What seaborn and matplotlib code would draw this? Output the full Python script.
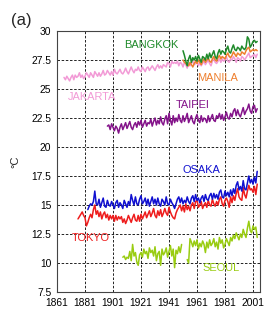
import numpy as np
import pandas as pd
import matplotlib
matplotlib.use('Agg')
import matplotlib.pyplot as plt
import seaborn as sns

# annual mean temperature, deg C
jakarta_years = list(range(1866, 2005))
jakarta = [26.0, 25.8, 26.1, 25.9, 25.7, 26.0, 26.2, 25.8, 26.2, 26.0,
           26.1, 26.4, 26.0, 26.2, 25.9, 26.1, 26.4, 26.2, 26.0, 26.4,
           26.2, 26.0, 26.5, 26.3, 26.1, 26.4, 26.1, 26.3, 26.6, 26.2,
           26.3, 26.6, 26.4, 26.2, 26.5, 26.2, 26.7, 26.4, 26.3, 26.5,
           26.7, 26.4, 26.3, 26.5, 26.8, 26.5, 26.3, 26.6, 26.9, 26.6,
           26.4, 26.7, 26.6, 26.9, 26.6, 26.5, 26.9, 26.7, 26.5, 26.8,
           26.9, 26.6, 26.8, 27.0, 26.8, 26.6, 26.9, 27.1, 26.8, 27.0,
           26.8, 27.1, 27.0, 26.9, 27.3, 27.2, 26.9, 27.4, 27.2, 27.3,
           27.2, 27.4, 27.0, 27.3, 27.2, 26.9, 27.3, 27.1, 26.8, 27.2,
           27.0, 27.2, 27.4, 27.1, 27.2, 27.4, 27.0, 27.3, 27.0, 27.2,
           27.4, 27.1, 27.3, 27.5, 27.2, 27.0, 27.4, 27.6, 27.3, 27.2,
           27.4, 27.6, 27.3, 27.6, 27.4, 27.5, 27.8, 27.4, 27.3, 27.6,
           27.5, 27.8, 27.6, 27.3, 27.7, 27.6, 27.4, 27.8, 27.7, 27.5,
           27.7, 27.9, 28.1, 27.7, 27.8, 27.9, 28.0, 27.7, 28.0]

bangkok_years = list(range(1951, 2005))
bangkok = [28.3, 27.9, 27.4, 27.0, 27.6, 27.9, 27.3, 27.7, 27.5, 27.8,
           27.4, 27.9, 27.6, 27.3, 27.8, 27.7, 27.5, 28.0, 27.6, 28.1,
           27.7, 28.0, 28.3, 27.8, 27.6, 28.1, 28.4, 28.0, 28.3, 28.2,
           28.0, 28.4, 28.7, 28.2, 28.1, 28.5, 28.8, 28.4, 28.3, 28.6,
           28.5, 28.3, 28.7, 28.5, 28.4, 28.6, 29.5, 29.3, 28.6, 28.8,
           29.1, 29.2, 29.0, 29.1]

manila_years = list(range(1951, 2005))
manila = [27.5, 27.3, 27.2, 27.1, 27.0, 27.3, 27.1, 26.9, 27.2, 27.4,
          27.2, 27.5, 27.3, 27.1, 27.4, 27.6, 27.3, 27.5, 27.7, 27.4,
          27.3, 27.6, 27.8, 27.5, 27.4, 27.7, 27.9, 27.6, 27.8, 27.7,
          27.6, 27.9, 28.1, 27.8, 27.7, 27.9, 28.2, 28.0, 27.8, 28.1,
          28.0, 27.9, 28.2, 28.1, 28.0, 28.3, 28.5, 28.6, 28.2, 28.3,
          28.4, 28.3, 28.4, 28.3]

taipei_years = list(range(1897, 2005))
taipei = [21.8, 21.9, 21.5, 22.0, 21.7, 21.4, 21.8, 21.6, 21.2, 21.7,
          22.0, 21.5, 21.8, 22.1, 21.6, 21.9, 22.2, 21.7, 21.5, 21.9,
          22.1, 21.7, 22.2, 21.9, 22.3, 21.7, 22.0, 22.3, 21.8, 22.1,
          22.0, 22.4, 21.8, 22.2, 22.5, 21.9, 22.3, 22.0, 22.6, 22.1,
          21.9, 22.4, 22.7, 22.0, 22.9, 22.3, 21.9, 22.7, 22.1, 22.5,
          22.2, 22.8, 22.3, 22.1, 22.7, 22.2, 22.5, 22.9, 22.1, 22.4,
          22.7, 22.2, 22.0, 22.5, 22.8, 22.3, 22.1, 22.7, 22.2, 22.5,
          22.4, 22.1, 22.7, 22.2, 22.5, 22.8, 22.3, 22.2, 22.7, 22.5,
          22.9, 22.4, 22.8, 22.3, 22.6, 23.0, 22.5, 22.4, 22.9, 22.6,
          23.1, 23.3, 22.7, 23.2, 22.8, 22.6, 23.0, 23.4, 22.8, 23.1,
          23.3, 23.7, 23.1, 22.9, 23.5, 23.6, 23.0, 23.3]

tokyo_years = list(range(1876, 2005))
tokyo = [13.8, 14.0, 14.2, 14.4, 14.1, 13.9, 13.2, 13.5, 13.9, 14.2,
         13.9, 14.6, 15.0, 14.2, 14.5, 14.0, 14.4, 13.8, 14.2, 14.4,
         13.9, 14.2, 13.7, 14.1, 13.8, 14.1, 13.6, 14.1, 13.7, 14.0,
         13.8, 14.0, 13.5, 13.8, 13.4, 13.7, 14.1, 13.8, 13.5, 13.9,
         14.2, 13.7, 13.6, 14.1, 13.6, 14.2, 13.8, 14.1, 14.4, 13.9,
         14.2, 14.5, 14.0, 14.3, 14.7, 14.1, 13.9, 14.5, 14.1, 14.6,
         14.0, 14.3, 14.7, 14.3, 14.1, 14.8, 14.4, 14.1, 13.9, 13.8,
         14.3, 14.6, 14.8, 15.0, 14.5, 14.9, 14.4, 15.1, 14.6, 14.9,
         14.5, 15.0, 15.2, 14.7, 15.3, 15.4, 14.8, 15.0, 15.3, 14.7,
         15.0, 15.2, 14.8, 15.4, 15.0, 14.9, 15.5, 15.1, 14.9, 15.3,
         15.0, 15.5, 15.7, 15.1, 14.9, 15.4, 15.6, 15.3, 14.8, 15.7,
         15.2, 15.8, 15.4, 16.0, 16.4, 15.7, 15.5, 15.4, 16.5, 15.9,
         15.6, 16.2, 16.7, 16.3, 16.4, 16.1, 16.6, 15.9, 16.8]

osaka_years = list(range(1883, 2005))
osaka = [14.6, 14.9, 15.1, 15.0, 15.3, 16.2, 15.1, 15.0, 15.5, 14.8,
         15.2, 15.6, 14.9, 14.8, 15.4, 15.0, 14.9, 15.3, 15.0, 14.7,
         15.2, 15.4, 14.8, 15.2, 15.0, 14.7, 15.4, 15.1, 14.8, 15.3,
         15.0, 15.9, 15.4, 15.0, 15.7, 15.1, 15.0, 15.5, 15.8, 15.1,
         15.3, 15.6, 15.0, 15.5, 14.9, 15.3, 15.7, 15.1, 15.5, 15.0,
         15.6, 15.1, 14.9, 15.5, 15.3, 15.0, 15.7, 15.1, 15.0, 15.5,
         15.2, 15.0, 14.7, 15.1, 15.5, 15.7, 15.2, 15.6, 15.1, 15.4,
         15.2, 15.7, 15.3, 15.1, 15.6, 15.8, 15.3, 15.9, 15.4, 15.6,
         15.2, 15.6, 15.8, 15.3, 15.9, 15.5, 15.4, 15.8, 16.0, 15.5,
         16.0, 15.6, 15.9, 15.5, 16.1, 16.3, 15.7, 15.6, 16.2, 15.8,
         16.1, 15.7, 16.3, 15.8, 16.4, 16.0, 16.7, 17.0, 16.3, 16.6,
         16.2, 17.1, 16.4, 16.3, 16.9, 17.5, 16.9, 17.2, 16.8, 17.4,
         16.9, 17.9]

# no data 1951-1953
seoul_years = list(range(1908, 2005))
seoul = [10.5, 10.6, 10.3, 10.5, 10.4, 11.0, 10.2, 11.6, 10.6, 10.9,
         10.1, 9.8, 10.7, 10.9, 10.5, 11.2, 10.8, 11.0, 10.4, 11.3,
         10.9, 11.1, 10.6, 11.4, 10.2, 10.8, 11.0, 9.8, 11.2, 10.7,
         10.9, 11.3, 10.5, 11.0, 11.5, 10.6, 11.2, 9.6, 11.1, 10.8,
         11.4, 10.9, 11.6, None, None, None,
         10.3, 10.0, 12.1, 11.8, 11.4, 11.9, 11.5, 12.0, 11.2, 11.7,
         11.4, 11.9, 11.6, 10.9, 11.8, 11.3, 12.0, 11.5, 11.7, 12.1,
         11.4, 11.8, 11.2, 12.2, 11.7, 12.0, 11.3, 11.6, 12.1, 11.8,
         11.5, 12.2, 11.9, 12.4, 12.1, 12.6, 12.3, 12.0, 12.5, 12.2,
         12.9, 12.5, 12.2, 13.0, 13.6, 12.8, 12.6, 13.2, 12.9, 13.1,
         12.2]

cities = ['JAKARTA', 'MANILA', 'BANGKOK', 'TAIPEI', 'TOKYO', 'OSAKA', 'SEOUL']
series = {
    'JAKARTA': (jakarta_years, jakarta),
    'MANILA': (manila_years, manila),
    'BANGKOK': (bangkok_years, bangkok),
    'TAIPEI': (taipei_years, taipei),
    'TOKYO': (tokyo_years, tokyo),
    'OSAKA': (osaka_years, osaka),
    'SEOUL': (seoul_years, seoul),
}
colors = {'JAKARTA': '#f29ad6', 'MANILA': '#ee7f2d', 'BANGKOK': '#1f8a2a',
          'TAIPEI': '#84138a', 'TOKYO': '#ee1c1c', 'OSAKA': '#1010d0',
          'SEOUL': '#99cc11'}
# label anchor (year, temp)
label_pos = {'BANGKOK': (1928, 28.8), 'MANILA': (1976, 25.95),
             'JAKARTA': (1886, 24.3), 'TAIPEI': (1958, 23.6),
             'OSAKA': (1964, 18.0), 'TOKYO': (1885, 12.15),
             'SEOUL': (1978, 9.6)}

yticks = [7.5, 10, 12.5, 15, 17.5, 20, 22.5, 25, 27.5, 30]
ytick_labels = ['7.5', '10', '12.5', '15', '17.5', '20', '22.5', '25', '27.5', '30']
xticks = [1861, 1881, 1901, 1921, 1941, 1961, 1981, 2001]

rows = []
for city in cities:
    yrs, vals = series[city]
    seg = 0
    for yr, v in zip(yrs, vals):
        if v is None:
            seg += 1
            continue
        rows.append({'city': city, 'year': yr, 'temp': v, 'seg': f'{city}{seg}'})
df = pd.DataFrame(rows)

sns.set_style('white')
plt.rcParams['font.family'] = ['Liberation Sans', 'DejaVu Sans']

fig = plt.figure(figsize=(2.68, 3.2), dpi=100)
ax = fig.add_axes([0.2127, 0.0875, 0.7575, 0.8156])

sns.lineplot(data=df, x='year', y='temp', hue='city', units='seg',
             estimator=None, palette=colors, hue_order=cities,
             linewidth=1.1, legend=False, ax=ax)

for city in cities:
    x, y = label_pos[city]
    ax.text(x, y, city, color=colors[city], fontsize=7.9,
            ha='center', va='center')

ax.set_xlim(1861, 2006)
ax.set_ylim(7.5, 30)
ax.set_xticks(xticks)
ax.set_yticks(yticks)
ax.set_yticklabels(ytick_labels)
ax.tick_params(labelsize=7.4, length=4, width=0.6, pad=2, direction='inout',
               colors='black')
ax.grid(True, color='black', linestyle=(0, (3, 2)), linewidth=0.6)
for s in ax.spines.values():
    s.set_color('#444444')
    s.set_linewidth(0.8)
ax.set_xlabel('')
ax.set_ylabel('°C', fontsize=8)
ax.yaxis.set_label_coords(-0.18, 0.5)

fig.text(0.078, 0.9375, '(a)', fontsize=12, ha='center', va='center')

fig.savefig('out.png', dpi=100)
